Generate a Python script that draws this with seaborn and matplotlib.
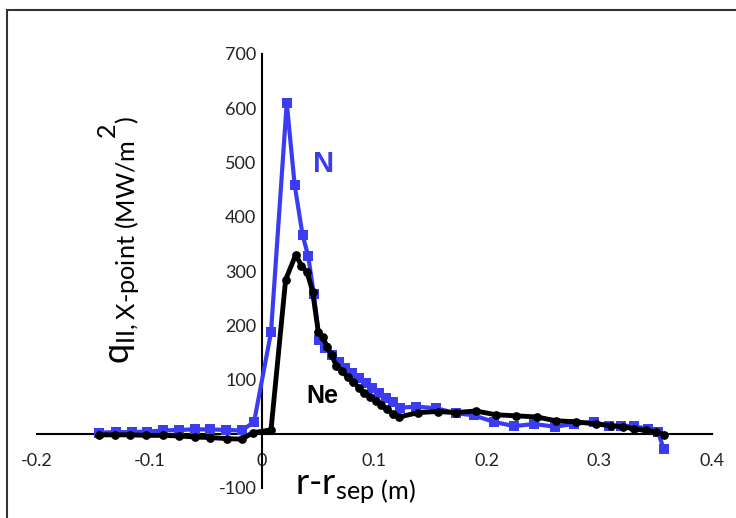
import matplotlib
matplotlib.use("Agg")
import matplotlib.pyplot as plt
import seaborn as sns
import pandas as pd
from matplotlib.patches import Rectangle

# ---- data ----
n_x = [-0.145, -0.130, -0.116, -0.102, -0.088, -0.074, -0.060, -0.046, -0.032, -0.018,
       -0.007, 0.008, 0.022, 0.029, 0.036, 0.041, 0.046, 0.051, 0.056, 0.062,
       0.068, 0.074, 0.080, 0.086, 0.092, 0.098, 0.104, 0.110, 0.116, 0.123,
       0.137, 0.155, 0.172, 0.188, 0.206, 0.224, 0.242, 0.260, 0.277, 0.295,
       0.308, 0.319, 0.331, 0.343, 0.352, 0.357]
n_y = [2, 3, 3, 4, 6, 7, 8, 8, 7, 6,
       22, 187, 610, 459, 367, 328, 258, 173, 158, 145,
       133, 122, 112, 103, 93, 84, 75, 66, 58, 48,
       50, 47, 38, 34, 22, 14, 18, 13, 18, 22,
       14, 15, 14, 9, 4, -28]

ne_x = [-0.145, -0.131, -0.117, -0.103, -0.088, -0.074, -0.060, -0.046, -0.031, -0.018,
        -0.008, 0.008, 0.021, 0.030, 0.035, 0.040, 0.045, 0.050, 0.054, 0.058,
        0.062, 0.066, 0.071, 0.076, 0.081, 0.086, 0.091, 0.096, 0.101, 0.106,
        0.111, 0.116, 0.122, 0.139, 0.156, 0.172, 0.190, 0.208, 0.226, 0.244,
        0.261, 0.279, 0.297, 0.310, 0.321, 0.331, 0.341, 0.350, 0.357]
ne_y = [-2, -2, -2, -3, -3, -4, -6, -7, -9, -10,
        2, 7, 284, 330, 310, 298, 262, 188, 178, 160,
        145, 125, 115, 105, 96, 85, 76, 68, 60, 53,
        45, 37, 31, 39, 41, 39, 42, 35, 33, 31,
        24, 22, 18, 15, 13, 9, 6, 4, -2]

x_ticks = [-0.2, -0.1, 0, 0.1, 0.2, 0.3, 0.4]
x_tick_labels = ["-0.2", "-0.1", "0", "0.1", "0.2", "0.3", "0.4"]
y_ticks = [-100, 100, 200, 300, 400, 500, 600, 700]
y_tick_labels = ["-100", "100", "200", "300", "400", "500", "600", "700"]

BLUE = "#3b3bf2"

sns.set_theme(style="white")
plt.rcParams["font.family"] = ["Lato", "DejaVu Sans"]
plt.rcParams["mathtext.fontset"] = "custom"
plt.rcParams["mathtext.rm"] = "Lato"
plt.rcParams["mathtext.it"] = "Lato"

fig = plt.figure(figsize=(7.36, 5.18), dpi=100)
ax = fig.add_axes([37 / 736, 1 - 488 / 518, (712 - 37) / 736, (488 - 54) / 518])

df_n = pd.DataFrame({"x": n_x, "y": n_y})
df_ne = pd.DataFrame({"x": ne_x, "y": ne_y})

sns.lineplot(data=df_n, x="x", y="y", ax=ax, color=BLUE, lw=3, marker="s",
             markersize=7.5, markeredgewidth=0, sort=False, estimator=None, zorder=3)
sns.lineplot(data=df_ne, x="x", y="y", ax=ax, color="black", lw=3.5, marker="o",
             markersize=6.3, markeredgewidth=0, sort=False, estimator=None, zorder=4)

ax.set_xlim(-0.2, 0.4)
ax.set_ylim(-100, 700)
ax.spines["top"].set_visible(False)
ax.spines["right"].set_visible(False)
ax.spines["left"].set_position(("data", 0))
ax.spines["bottom"].set_position(("data", 0))
for s in ("left", "bottom"):
    ax.spines[s].set_color("black")
    ax.spines[s].set_linewidth(1.5)

ax.set_xticks(x_ticks)
ax.set_xticklabels(x_tick_labels)
ax.set_yticks(y_ticks)
ax.set_yticklabels(y_tick_labels)
ax.tick_params(axis="both", direction="in", length=4, width=1.5, color="black",
               labelsize=13, labelcolor="#222222")
ax.tick_params(axis="x", pad=14)
ax.tick_params(axis="y", pad=4)
ax.set_xlabel("")
ax.set_ylabel("")

fig.text(120 / 736, 1 - 240 / 518,
         r"$\mathregular{q_{II,X\text{-}point\ (MW/m}{}^{2}{}_{)}}$",
         rotation=90, ha="center", va="center", fontsize=26, color="black")
fig.text(355 / 736, 1 - 490 / 518, r"$\mathregular{r\text{-}r_{sep\ (m)}}$",
         ha="center", va="center", fontsize=26, color="black")

ax.text(0.055, 497, "N", color=BLUE, fontsize=21, fontweight="bold",
        family="Liberation Sans", ha="center", va="center")
ax.text(0.054, 70, "Ne", color="black", fontsize=18, fontweight="bold",
        family="Liberation Sans", ha="center", va="center")

fig.patches.append(Rectangle((7 / 736, -0.2), 1.2, 1.2 - 10 / 518,
                             transform=fig.transFigure, fill=False,
                             edgecolor="#333333", lw=1.5))

fig.savefig("out.png", dpi=100)
